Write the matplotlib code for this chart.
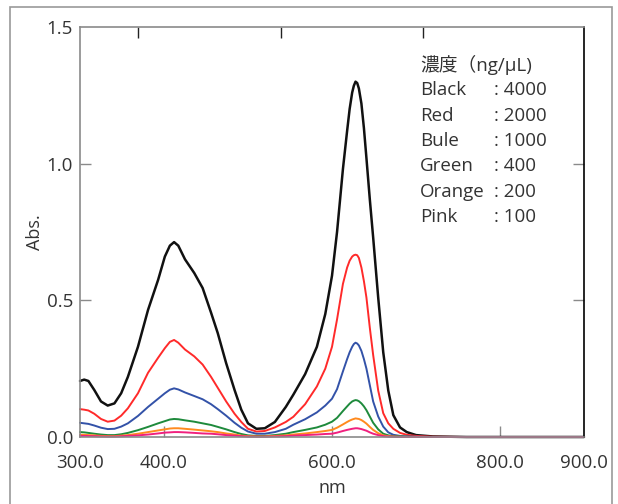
import numpy as np
import matplotlib.pyplot as plt
from matplotlib.patches import Rectangle

plt.rcParams['font.family'] = ['Open Sans', 'Noto Sans CJK JP', 'DejaVu Sans']

# wavelength grid (nm) shared by all spectra
wavelength = [300, 305, 310, 317, 325, 333, 341, 349, 357, 369, 381, 393, 401, 407, 412, 417,
              425, 436, 446, 456, 464, 474, 484, 492, 500, 510, 520, 532, 545, 554, 568, 582,
              592, 600, 606, 613, 618, 621, 624, 626, 628, 630, 632, 635, 638, 641, 645, 649,
              655, 661, 667, 673, 681, 689, 700, 720, 760, 900]

black = [0.205, 0.21, 0.205, 0.172, 0.13, 0.115, 0.123, 0.16, 0.22, 0.33, 0.465, 0.575, 0.66, 0.70, 0.713, 0.70,
         0.65, 0.60, 0.545, 0.455, 0.38, 0.27, 0.172, 0.10, 0.05, 0.03, 0.032, 0.055, 0.11, 0.155, 0.23, 0.33,
         0.45, 0.59, 0.75, 0.98, 1.12, 1.20, 1.26, 1.285, 1.30, 1.295, 1.275, 1.22, 1.13, 1.02, 0.87, 0.73,
         0.51, 0.31, 0.17, 0.08, 0.035, 0.018, 0.007, 0.002, 0.0, 0.0]
red = [0.102, 0.10, 0.097, 0.085, 0.066, 0.056, 0.06, 0.078, 0.105, 0.16, 0.235, 0.29, 0.325, 0.348, 0.355, 0.345,
       0.32, 0.295, 0.265, 0.22, 0.18, 0.13, 0.085, 0.055, 0.03, 0.02, 0.022, 0.035, 0.055, 0.074, 0.12, 0.185,
       0.25, 0.33, 0.43, 0.56, 0.62, 0.645, 0.66, 0.665, 0.667, 0.665, 0.655, 0.62, 0.57, 0.51, 0.40, 0.30,
       0.17, 0.087, 0.05, 0.03, 0.015, 0.008, 0.004, 0.001, 0.0, 0.0]
blue = [0.052, 0.05, 0.048, 0.042, 0.034, 0.029, 0.03, 0.038, 0.05, 0.077, 0.11, 0.14, 0.16, 0.173, 0.178, 0.174,
        0.163, 0.15, 0.138, 0.12, 0.102, 0.078, 0.052, 0.034, 0.02, 0.012, 0.012, 0.018, 0.03, 0.045, 0.065, 0.09,
        0.115, 0.14, 0.175, 0.24, 0.285, 0.31, 0.33, 0.34, 0.345, 0.342, 0.335, 0.315, 0.285, 0.25, 0.19, 0.13,
        0.075, 0.038, 0.017, 0.008, 0.004, 0.002, 0.001, 0.0, 0.0, 0.0]
green = [0.018, 0.017, 0.015, 0.012, 0.009, 0.007, 0.007, 0.01, 0.015, 0.025, 0.037, 0.05, 0.058, 0.064, 0.066, 0.065,
         0.061, 0.056, 0.05, 0.044, 0.037, 0.028, 0.018, 0.011, 0.006, 0.004, 0.004, 0.007, 0.012, 0.018, 0.026, 0.035,
         0.045, 0.056, 0.07, 0.095, 0.112, 0.122, 0.13, 0.133, 0.135, 0.134, 0.131, 0.123, 0.112, 0.098, 0.075, 0.052,
         0.028, 0.012, 0.006, 0.003, 0.002, 0.001, 0.0, 0.0, 0.0, 0.0]
orange = [0.008, 0.008, 0.007, 0.006, 0.004, 0.003, 0.003, 0.005, 0.007, 0.012, 0.018, 0.024, 0.028, 0.031, 0.032, 0.032,
          0.03, 0.027, 0.024, 0.021, 0.018, 0.013, 0.009, 0.005, 0.003, 0.002, 0.002, 0.004, 0.006, 0.009, 0.013, 0.018,
          0.022, 0.026, 0.034, 0.046, 0.055, 0.06, 0.064, 0.066, 0.068, 0.067, 0.066, 0.062, 0.056, 0.049, 0.037, 0.026,
          0.014, 0.006, 0.003, 0.0015, 0.001, 0.0, 0.0, 0.0, 0.0, 0.0]
pink = [0.004, 0.004, 0.0035, 0.003, 0.002, 0.0015, 0.0015, 0.0025, 0.004, 0.006, 0.009, 0.013, 0.016, 0.017, 0.018, 0.018,
        0.017, 0.015, 0.013, 0.012, 0.01, 0.007, 0.005, 0.003, 0.0015, 0.001, 0.001, 0.002, 0.003, 0.005, 0.007, 0.009,
        0.011, 0.012, 0.016, 0.022, 0.026, 0.028, 0.03, 0.031, 0.032, 0.032, 0.031, 0.029, 0.026, 0.023, 0.017, 0.012,
        0.007, 0.003, 0.0015, 0.001, 0.0, 0.0, 0.0, 0.0, 0.0, 0.0]

series = [black, red, blue, green, orange, pink]
colors = ['#111111', '#ff2a2a', '#3352a8', '#1e8a3c', '#ff8a1e', '#f0207e']
widths = [1.8, 1.4, 1.4, 1.4, 1.4, 1.4]

legend_title = '濃度（ng/μL)'
legend_names = ['Black', 'Red', 'Bule', 'Green', 'Orange', 'Pink']
legend_values = ['4000', '2000', '1000', '400', '200', '100']

xticks = [300, 400, 600, 800, 900]
yticks = [0.0, 0.5, 1.0, 1.5]
top_ticks = [369, 539, 708]

txt = '#333333'
gray = '#8a8a8a'
fs = 13.5

fig = plt.figure(figsize=(6.18, 5.04), dpi=100)
ax = fig.add_axes([80 / 618, 67 / 504, 504 / 618, 410 / 504])

for ys, c, w in zip(series, colors, widths):
    ax.plot(wavelength, ys, color=c, lw=w, clip_on=False,
            solid_joinstyle='round', solid_capstyle='round')

ax.set_xlim(300, 900)
ax.set_ylim(0, 1.5)
ax.set_xticks(xticks)
ax.set_xticklabels(['%.1f' % v for v in xticks])
ax.set_yticks(yticks)
ax.set_yticklabels(['%.1f' % v for v in yticks])
ax.tick_params(axis='both', direction='in', length=8, width=1, labelsize=fs,
               labelcolor=txt, color=gray)
ax.tick_params(axis='x', pad=12)
ax.tick_params(axis='y', right=True, pad=5)

for s in ['left', 'top', 'bottom']:
    ax.spines[s].set_color(gray)
    ax.spines[s].set_linewidth(1.2)
ax.spines['right'].set_color('black')
ax.spines['right'].set_linewidth(1.2)

for t in ax.yaxis.get_ticklines()[1::2]:
    t.set_color('black')

# hide ticks at the ends of the axes
for t, v in zip(ax.xaxis.get_major_ticks(), xticks):
    if v in (300, 900):
        t.tick1line.set_visible(False)
for t, v in zip(ax.yaxis.get_major_ticks(), yticks):
    if v in (0.0, 1.5):
        t.tick1line.set_visible(False)
        t.tick2line.set_visible(False)

top = ax.secondary_xaxis('top')
top.set_xticks(top_ticks)
top.set_xticklabels([])
top.tick_params(direction='in', length=8, width=1, color='#222222')
top.spines['top'].set_visible(False)

ax.set_xlabel('nm', fontsize=13, color=txt, labelpad=5)
ax.set_ylabel('Abs.', fontsize=13, color=txt, labelpad=2)

x0, x1 = 0.675, 0.822
y0, dy = 0.907, 0.0617
ax.text(x0, y0, legend_title, transform=ax.transAxes, fontsize=fs, color=txt, va='center')
for i, (n, v) in enumerate(zip(legend_names, legend_values)):
    y = y0 - (i + 1) * dy
    ax.text(x0, y, n, transform=ax.transAxes, fontsize=fs, color=txt, va='center')
    ax.text(x1, y, ': ' + v, transform=ax.transAxes, fontsize=fs, color=txt, va='center')

fig.patches.append(Rectangle((10 / 618, -0.02), 602 / 618, 1.0 - 7 / 504 + 0.02,
                             transform=fig.transFigure, fill=False, edgecolor='#999999',
                             lw=1.2, clip_on=False))

fig.savefig('out.png', dpi=100)
